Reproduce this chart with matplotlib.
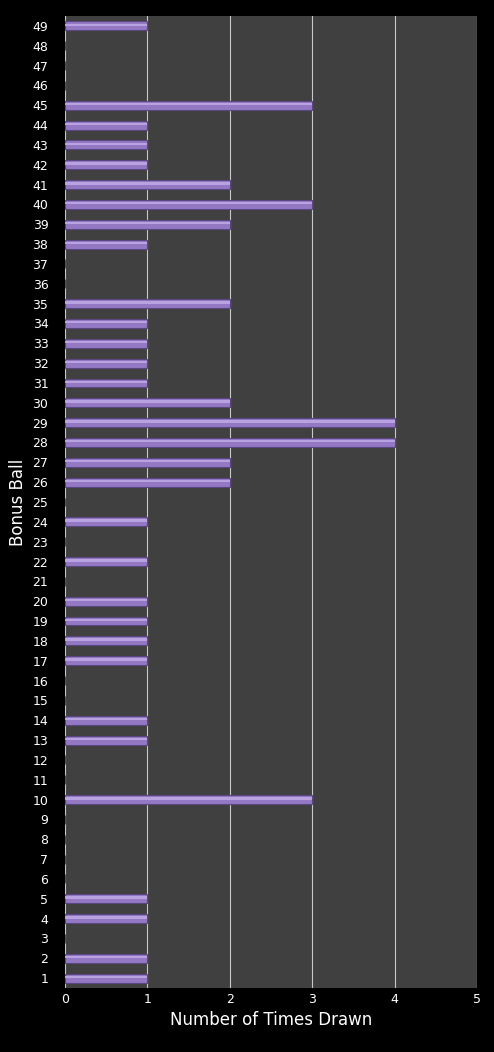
import numpy as np
import matplotlib.pyplot as plt

balls = list(range(1, 50))
# times drawn for balls 1..49
counts = [1, 1, 0, 1, 1, 0, 0, 0, 0, 3,
          0, 0, 1, 1, 0, 0, 1, 1, 1, 1,
          0, 1, 0, 1, 0, 2, 2, 4, 4, 2,
          1, 1, 1, 1, 2, 0, 0, 1, 2, 3,
          2, 1, 1, 1, 3, 0, 0, 0, 1]

fig = plt.figure(figsize=(4.94, 10.52), dpi=100, facecolor='black')
ax = fig.add_axes([65/494, 1 - 988/1052, 412/494, 972/1052])
ax.set_facecolor('#404040')

ax.barh(balls, counts, height=0.45, color='#9478c4', edgecolor='#5a4680', linewidth=0.8, zorder=3)
# highlight strip for the 3D look
ax.barh(np.array(balls) + 0.06, counts, height=0.12, color='#b8a2e0', linewidth=0, zorder=4)

ax.set_xlim(0, 5)
ax.set_ylim(0.5, 49.5)
ax.set_yticks(balls)
ax.set_xticks(range(6))
ax.xaxis.grid(True, color='#c8c8c8', linewidth=0.8, zorder=1)
ax.tick_params(colors='white', labelsize=9, length=0)
ax.tick_params(axis='y', pad=12)
for s in ax.spines.values():
    s.set_visible(False)
ax.set_xlabel('Number of Times Drawn', color='white', fontsize=12)
ax.set_ylabel('Bonus Ball', color='white', fontsize=12, labelpad=4)

fig.savefig('out.png', facecolor='black')
